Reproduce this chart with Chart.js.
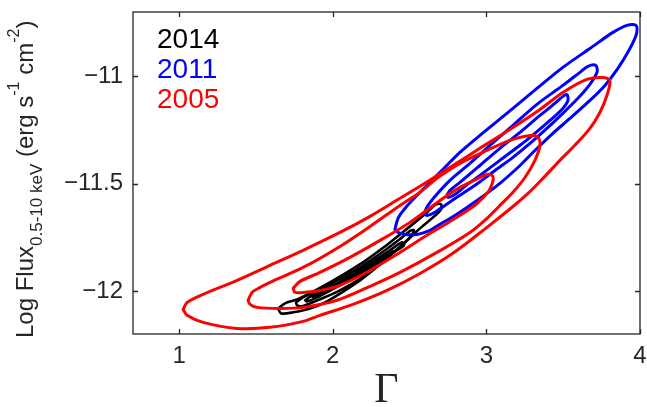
<!DOCTYPE html>
<html><head><meta charset="utf-8">
<script src="https://cdn.jsdelivr.net/npm/chart.js@4/dist/chart.umd.min.js"></script>
<style>html,body{margin:0;padding:0;background:#fff}#wrap{width:647px;height:407px;position:relative}</style>
</head><body><div id="wrap"><canvas id="c" width="647" height="407"></canvas></div>
<script>
// Axis ticks
const xTicks = [1, 2, 3, 4];
const yTicks = [-12, -11.5, -11];
// Legend entries
const years = ['2014', '2011', '2005'];
const yearColors = ['#000000', '#0000ff', '#ff0000'];

// 2005 contours (Gamma, log flux)
const red3G = [1.026,1.052,1.156,1.377,1.592,1.807,2.047,2.243,2.438,2.568,2.782,2.958,3.173,3.349,3.498,3.654,3.759,3.804,3.785,3.739,3.674,3.576,3.479,3.368,3.271,3.173,3.004,2.782,2.568,2.353,2.132,1.917,1.807,1.592,1.377,1.156,1.052];
const red3F = [-12.085,-12.053,-12.015,-11.950,-11.880,-11.810,-11.727,-11.652,-11.568,-11.512,-11.415,-11.335,-11.238,-11.154,-11.075,-11.014,-11.005,-11.019,-11.088,-11.168,-11.242,-11.321,-11.391,-11.475,-11.545,-11.606,-11.703,-11.824,-11.918,-11.997,-12.062,-12.113,-12.141,-12.169,-12.174,-12.146,-12.113];
const red2G = [1.449,1.475,1.527,1.592,1.807,2.047,2.243,2.438,2.568,2.678,2.828,3.004,3.153,3.284,3.336,3.349,3.316,3.251,3.173,3.108,3.004,2.893,2.678,2.438,2.243,2.028,1.807,1.657,1.507,1.462];
const red2F = [-12.043,-12.006,-11.983,-11.959,-11.890,-11.792,-11.699,-11.601,-11.540,-11.475,-11.405,-11.345,-11.298,-11.275,-11.284,-11.321,-11.391,-11.471,-11.540,-11.587,-11.661,-11.727,-11.820,-11.913,-11.978,-12.043,-12.076,-12.081,-12.076,-12.062];
const red1G = [1.742,1.787,1.917,2.112,2.308,2.503,2.698,2.828,2.958,3.010,3.043,3.036,3.004,2.939,2.848,2.743,2.633,2.438,2.243,2.047,1.917,1.820,1.755];
const red1F = [-11.987,-11.955,-11.913,-11.843,-11.764,-11.680,-11.578,-11.517,-11.471,-11.456,-11.466,-11.503,-11.545,-11.592,-11.638,-11.685,-11.731,-11.820,-11.904,-11.973,-11.997,-12.006,-12.006];

// 2011 contours
const blue3G = [2.405,2.425,2.470,2.568,2.698,2.828,2.958,3.173,3.329,3.498,3.674,3.824,3.915,3.973,3.980,3.967,3.921,3.856,3.772,3.674,3.544,3.433,3.316,3.219,3.088,2.939,2.795,2.698,2.633,2.548,2.470,2.425];
const blue3F = [-11.713,-11.661,-11.615,-11.540,-11.447,-11.354,-11.275,-11.149,-11.056,-10.958,-10.870,-10.795,-10.762,-10.762,-10.790,-10.823,-10.888,-10.963,-11.042,-11.112,-11.196,-11.265,-11.345,-11.415,-11.498,-11.578,-11.648,-11.689,-11.717,-11.736,-11.736,-11.727];
const blue2G = [2.594,2.620,2.665,2.763,2.893,3.023,3.173,3.329,3.498,3.609,3.661,3.713,3.720,3.674,3.596,3.498,3.394,3.284,3.173,3.056,2.945,2.828,2.730,2.665,2.613];
const blue2F = [-11.638,-11.601,-11.559,-11.484,-11.405,-11.321,-11.228,-11.130,-11.042,-10.981,-10.953,-10.949,-10.981,-11.037,-11.102,-11.172,-11.242,-11.312,-11.377,-11.438,-11.498,-11.554,-11.601,-11.633,-11.648];
const blue1G = [2.743,2.763,2.828,2.958,3.088,3.219,3.349,3.446,3.498,3.524,3.531,3.498,3.414,3.316,3.219,3.088,2.958,2.861,2.795,2.750];
const blue1F = [-11.554,-11.531,-11.494,-11.415,-11.335,-11.261,-11.182,-11.126,-11.093,-11.084,-11.112,-11.149,-11.205,-11.265,-11.321,-11.391,-11.461,-11.512,-11.550,-11.564];

// 2014 contours
const k4G = [1.644,1.690,1.768,1.982,2.197,2.340,2.438,2.535,2.620,2.672,2.705,2.705,2.646,2.568,2.470,2.373,2.275,2.178,1.963,1.852,1.742,1.664];
const k4F = [-12.081,-12.057,-12.039,-11.959,-11.866,-11.792,-11.736,-11.680,-11.629,-11.596,-11.596,-11.620,-11.661,-11.708,-11.773,-11.834,-11.894,-11.950,-12.048,-12.081,-12.099,-12.104];
const k3G = [1.761,1.807,1.982,2.178,2.340,2.451,2.509,2.529,2.503,2.405,2.243,2.047,1.885,1.800,1.768];
const k3F = [-12.053,-12.029,-11.969,-11.889,-11.810,-11.750,-11.717,-11.717,-11.750,-11.815,-11.913,-11.997,-12.048,-12.071,-12.067];
const k2G = [1.820,1.865,2.015,2.210,2.373,2.451,2.464,2.386,2.230,2.034,1.885,1.833];
const k2F = [-12.043,-12.020,-11.969,-11.885,-11.810,-11.773,-11.787,-11.824,-11.904,-11.978,-12.034,-12.048];
const k1G = [1.865,1.982,2.178,2.340,2.392,2.373,2.210,2.015,1.885];
const k1F = [-12.025,-11.983,-11.908,-11.838,-11.815,-11.829,-11.904,-11.983,-12.029];

const contours = [
  {g: k4G, f: k4F, c: 0}, {g: k3G, f: k3F, c: 0}, {g: k2G, f: k2F, c: 0}, {g: k1G, f: k1F, c: 0},
  {g: blue3G, f: blue3F, c: 1}, {g: blue2G, f: blue2F, c: 1}, {g: blue1G, f: blue1F, c: 1},
  {g: red3G, f: red3F, c: 2}, {g: red2G, f: red2F, c: 2}, {g: red1G, f: red1F, c: 2}
];

function loop(g, f) {
  const a = g.map((v, i) => ({x: v, y: f[i]}));
  a.push({x: g[0], y: f[0]});
  return a;
}

const AX = '#262626';
const FONT = '"Liberation Sans", Arial, Helvetica, sans-serif';

const decor = {
  id: 'decor',
  afterDraw(chart) {
    const {ctx, chartArea: a, scales: {x, y}} = chart;
    ctx.save();
    ctx.strokeStyle = AX; ctx.lineWidth = 1.3;
    ctx.strokeRect(a.left, a.top, a.right - a.left, a.bottom - a.top);
    const tl = 5;
    ctx.beginPath();
    xTicks.forEach(v => {
      const p = Math.round(x.getPixelForValue(v)) + 0.5;
      ctx.moveTo(p, a.bottom); ctx.lineTo(p, a.bottom - tl);
      ctx.moveTo(p, a.top); ctx.lineTo(p, a.top + tl);
    });
    yTicks.forEach(v => {
      const p = Math.round(y.getPixelForValue(v)) + 0.5;
      ctx.moveTo(a.left, p); ctx.lineTo(a.left + tl, p);
      ctx.moveTo(a.right, p); ctx.lineTo(a.right - tl, p);
    });
    ctx.stroke();

    // legend (text only)
    ctx.font = '28px ' + FONT;
    ctx.textAlign = 'left'; ctx.textBaseline = 'alphabetic';
    years.forEach((t, i) => {
      ctx.fillStyle = yearColors[i];
      ctx.fillText(t, a.left + 24, a.top + 36 + i * 30);
    });

    // x title
    ctx.fillStyle = AX;
    ctx.font = '42px "Liberation Serif", "Times New Roman", serif';
    ctx.textAlign = 'center';
    ctx.fillText('\u0393', (a.left + a.right) / 2, 402);

    // y title with sub/superscripts
    const segs = [
      {t: 'Log Flux', s: 24, d: 0},
      {t: '0.5-10 keV', s: 17, d: 9},
      {t: ' (erg s', s: 24, d: 0},
      {t: '-1', s: 16, d: -14},
      {t: ' cm', s: 24, d: 0},
      {t: '-2', s: 16, d: -14},
      {t: ')', s: 24, d: 0}
    ];
    ctx.translate(33, 338);
    ctx.rotate(-Math.PI / 2);
    ctx.textAlign = 'left';
    let cx = 0;
    segs.forEach(sg => {
      ctx.font = sg.s + 'px ' + FONT;
      ctx.fillText(sg.t, cx, sg.d);
      cx += ctx.measureText(sg.t).width;
    });
    ctx.restore();
  }
};

function noPad(s) { s.paddingLeft = 0; s.paddingRight = 0; s.paddingTop = 0; s.paddingBottom = 0; }

new Chart(document.getElementById('c'), {
  type: 'scatter',
  data: {
    datasets: contours.map(o => ({
      data: loop(o.g, o.f),
      showLine: true,
      borderColor: yearColors[o.c],
      borderWidth: o.c === 0 ? 2.6 : 3,
      pointRadius: 0,
      pointHoverRadius: 0,
      fill: false,
      tension: 0.3,
      borderJoinStyle: 'round',
      borderCapStyle: 'round',
      order: 3 - o.c
    }))
  },
  options: {
    responsive: false,
    animation: false,
    devicePixelRatio: 1,
    layout: {padding: {top: 12, right: 7, left: 0, bottom: 0}},
    plugins: {legend: {display: false}, tooltip: {enabled: false}},
    events: [],
    scales: {
      x: {
        type: 'linear', min: 0.7, max: 4,
        afterBuildTicks: s => { s.ticks = xTicks.map(v => ({value: v})); },
        afterFit: s => { s.height = 73; noPad(s); },
        grid: {display: false, drawTicks: false},
        border: {display: false},
        ticks: {color: AX, font: {family: FONT, size: 24}, padding: 8, maxRotation: 0, autoSkip: false}
      },
      y: {
        type: 'linear', min: -12.2, max: -10.7,
        afterBuildTicks: s => { s.ticks = yTicks.map(v => ({value: v})); },
        afterFit: s => { s.width = 133; noPad(s); },
        grid: {display: false, drawTicks: false},
        border: {display: false},
        ticks: {color: AX, font: {family: FONT, size: 24}, padding: 10, autoSkip: false,
          callback: v => String(v).replace('-', '\u2212')}
      }
    }
  },
  plugins: [decor]
});
</script>
</body></html>
